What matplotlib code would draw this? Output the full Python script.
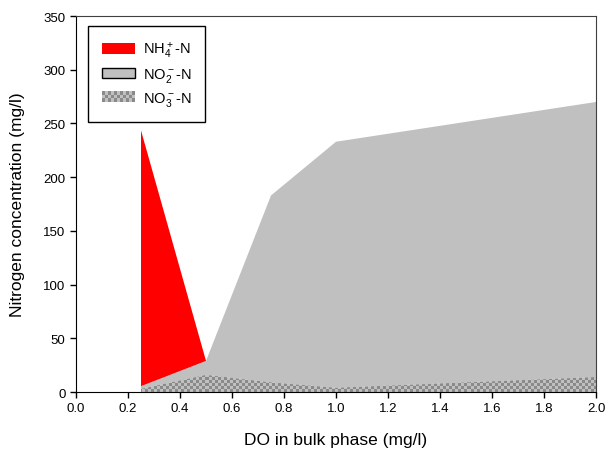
"""Stacked nitrogen species vs DO in bulk phase."""

import numpy as np
import matplotlib
matplotlib.use("Agg")
import matplotlib.pyplot as plt
from matplotlib.patches import Rectangle
from matplotlib.legend_handler import HandlerBase

plt.rcParams["font.family"] = ["Liberation Sans", "DejaVu Sans"]
plt.rcParams["mathtext.fontset"] = "custom"
plt.rcParams["mathtext.rm"] = "Liberation Sans"

# data (mg/l)
do_bulk = [0.25, 0.5, 0.75, 1.0, 2.0]
no3 = [3, 16, 9, 4, 14]
no2 = [2.5, 13, 174, 229, 256]
nh4 = [238, 0, 0, 0, 0]

RED = "#ff0000"
GRAY = "#c0c0c0"
DARK = "#8a8a8a"


class CheckerHandler(HandlerBase):
    def create_artists(self, legend, orig_handle, xdescent, ydescent,
                       width, height, fontsize, trans):
        arts = [Rectangle((-xdescent, -ydescent), width, height,
                          facecolor=GRAY, edgecolor="none", transform=trans)]
        n = 11
        cw = width / n
        ch = height / 3
        for i in range(n):
            for j in range(3):
                if (i + j) % 2 == 0:
                    arts.append(Rectangle((-xdescent + i * cw, -ydescent + j * ch),
                                          cw, ch, facecolor=DARK,
                                          edgecolor="none", transform=trans))
        return arts


fig = plt.figure(figsize=(6.1, 4.56), dpi=100)
ax = fig.add_axes([0.1246, 0.138, 0.8525, 0.8247])

x = np.array(do_bulk)
b3 = np.array(no3)
b2 = b3 + np.array(no2)
b1 = b2 + np.array(nh4)

# NO3 checkered fill: checkerboard image clipped to the area polygon
poly3 = ax.fill_between(x, 0, b3, facecolor=GRAY, linewidth=0, zorder=2)
checker = np.indices((125, 173)).sum(axis=0) % 2
img = ax.imshow(checker, cmap=matplotlib.colors.ListedColormap([GRAY, DARK]),
                extent=[0, 1, 0, 1], transform=ax.transAxes,
                interpolation="nearest", aspect="auto", zorder=2.1)
img.set_clip_path(poly3.get_paths()[0], transform=ax.transData)

ax.fill_between(x, b3, b2, facecolor=GRAY, linewidth=0, zorder=2)
ax.fill_between(x[:2], b2[:2], b1[:2], facecolor=RED, linewidth=0, zorder=2)

ax.set_xlim(0, 2.0)
ax.set_ylim(0, 350)
ax.set_xticks(np.arange(0, 2.01, 0.2))
ax.set_xticklabels([f"{v:.1f}" for v in np.arange(0, 2.01, 0.2)])
ax.set_yticks(range(0, 351, 50))
ax.tick_params(direction="out", length=4, labelsize=9.5, width=1)
for s in ax.spines.values():
    s.set_color("#404040")
ax.spines["left"].set_color("black")
ax.spines["bottom"].set_color("black")

ax.set_xlabel("DO in bulk phase (mg/l)", fontsize=12.5)
ax.set_ylabel("Nitrogen concentration (mg/l)", fontsize=12.5)
ax.xaxis.set_label_coords(0.5, -0.105)
ax.yaxis.set_label_coords(-0.098, 0.5)

h1 = Rectangle((0, 0), 1, 1, facecolor=RED, edgecolor="none")
h2 = Rectangle((0, 0), 1, 1, facecolor=GRAY, edgecolor="black", linewidth=1)
h3 = Rectangle((0, 0), 1, 1)
leg = ax.legend([h1, h2, h3],
                [r"NH$\mathregular{_4^+}$-N", r"NO$\mathregular{_2^-}$-N",
                 r"NO$\mathregular{_3^-}$-N"],
                handler_map={h3: CheckerHandler()},
                loc="upper left", bbox_to_anchor=(0.023, 0.973),
                fontsize=10.5, fancybox=False, framealpha=1,
                edgecolor="black", handlelength=2.3, handleheight=0.7,
                labelspacing=0.4, borderpad=0.95, handletextpad=0.5,
                borderaxespad=0)
leg.get_frame().set_linewidth(1)

plt.savefig("out.png", dpi=100)
